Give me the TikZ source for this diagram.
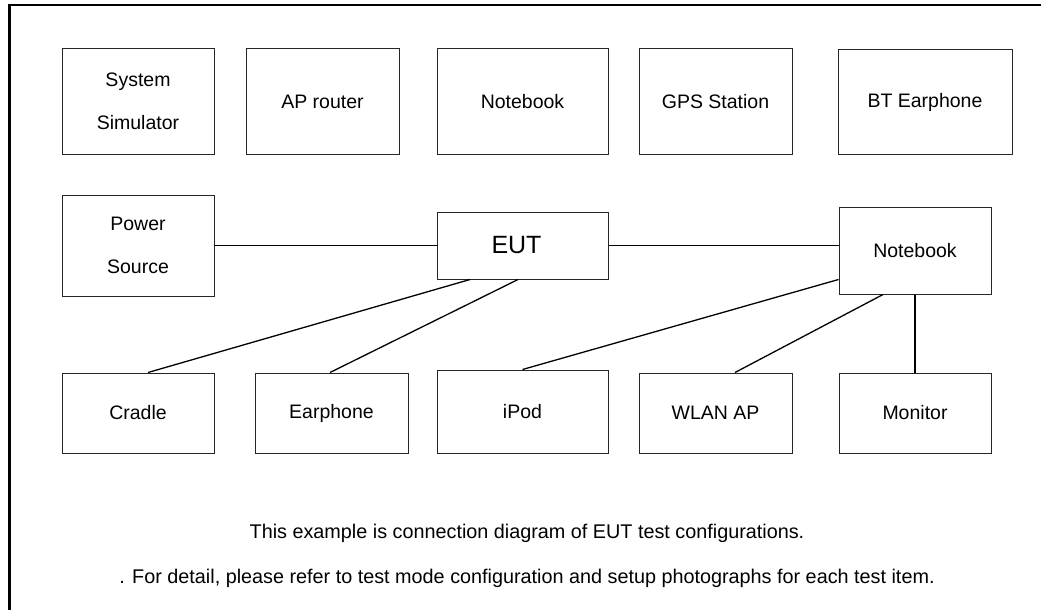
\documentclass[tikz,border=0pt]{standalone}
\usepackage{fontspec}
\setmainfont{Liberation Sans}
\usetikzlibrary{calc}
\begin{document}
\begin{tikzpicture}[x=1pt,y=-1pt,
  box/.style={draw=black!85,line width=1pt,rectangle,inner sep=0pt,align=center,
    font=\fontsize{19.5}{43}\selectfont},
  link/.style={draw=black,line width=1.3pt},
  note/.style={inner sep=0pt,anchor=base,font=\fontsize{19.8}{24}\selectfont}]
\useasboundingbox (0,0) rectangle (1041,610);
% frame (left and top edges only)
\draw[line width=2.5pt,line cap=rect] (9.5,610) -- (9.5,5) -- (1041,5);
% top row
\node[box,minimum width=152pt,minimum height=105pt] (sys) at (138,101.5) {System\\Simulator};
\node[box,minimum width=153pt,minimum height=105pt] (ap)  at (322.5,101.5) {AP router};
\node[box,minimum width=171pt,minimum height=105pt] (nba) at (522.5,101.5) {Notebook};
\node[box,minimum width=153pt,minimum height=105pt] (gps) at (715.5,101.5) {GPS Station};
\node[box,minimum width=174pt,minimum height=104pt] (bt)  at (925,102) {BT Earphone};
% middle row
\node[box,minimum width=152pt,minimum height=101pt] (pwr) at (138,245.5) {Power\\Source};
\node[box,minimum width=171pt,minimum height=67pt,font=\fontsize{25}{30}\selectfont] (eut) at (522.5,245.5) {\hspace*{-12pt}EUT};
\node[box,minimum width=152pt,minimum height=87pt] (nbb) at (915,250.5) {Notebook};
% bottom row
\node[box,minimum width=152pt,minimum height=80pt] (cra) at (138,413) {Cradle};
\node[box,minimum width=153pt,minimum height=80pt] (ear) at (331.5,413) {Earphone};
\node[box,minimum width=171pt,minimum height=83pt] (ipod) at (522.5,411.5) {iPod};
\node[box,minimum width=153pt,minimum height=80pt] (wlan) at (715.5,413) {WLAN AP};
\node[box,minimum width=152pt,minimum height=80pt] (mon) at (915,413) {Monitor};
% connectors
\draw[link] (pwr) -- (eut);
\draw[link] (eut.east) -- (eut.east -| nbb.west);
\draw[link] ($(eut.south)+(-52.5,0)$) -- ($(cra.north)+(10,0)$);
\draw[link] ($(eut.south)+(-4.5,0)$) -- ($(ear.north)+(-1.5,0)$);
\draw[link] ($(nbb.south west)+(0,-15)$) -- (ipod.north);
\draw[link] ($(nbb.south)+(-32,0)$) -- ($(wlan.north)+(19.5,0)$);
\draw[link] (nbb.south) -- (mon.north);
% notes
\node[note] (n1) at (527,538) {This example is connection diagram of EUT test configurations.};
\node[note] (n2) at (527,583) {. For detail, please refer to test mode configuration and setup photographs for each test item.};
\end{tikzpicture}
\end{document}
